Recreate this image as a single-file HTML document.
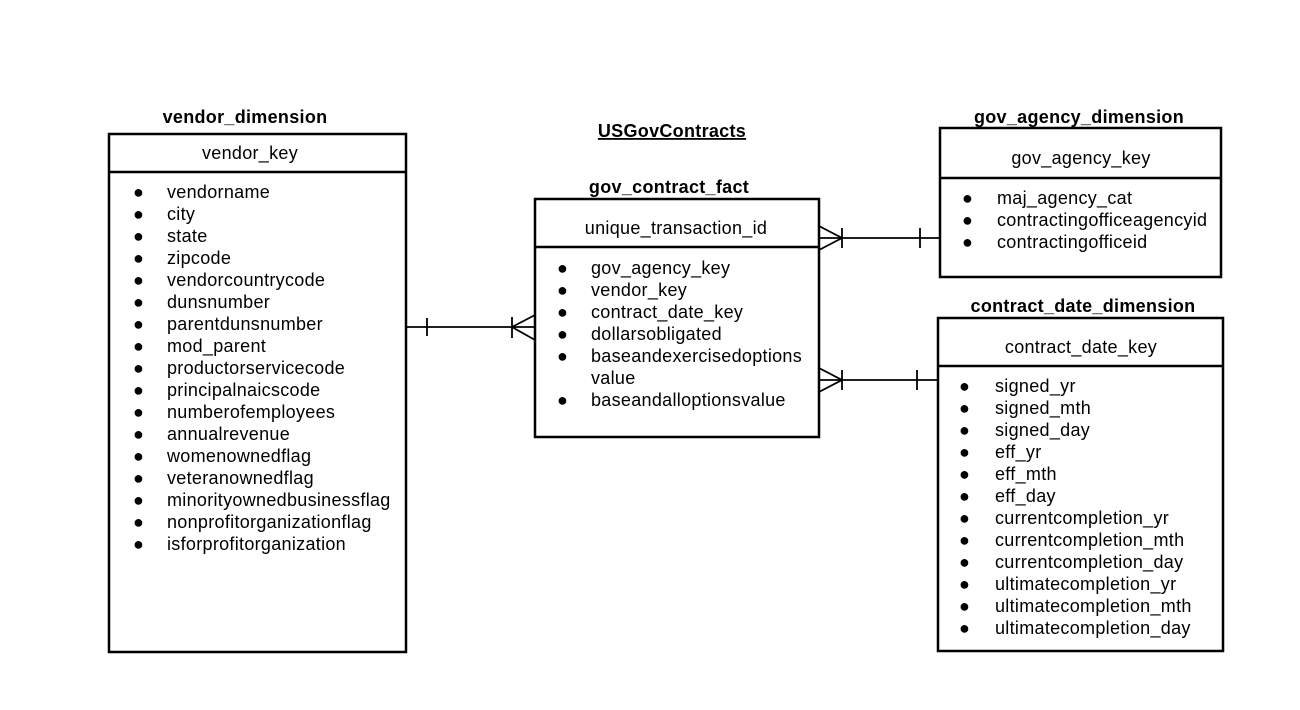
<!DOCTYPE html>
<html><head><meta charset="utf-8"><style>
html,body{margin:0;padding:0;background:#fff;}
svg{display:block;}
text{font-family:"Liberation Sans",Arial,sans-serif;font-size:18px;letter-spacing:0.3px;fill:#000;}
.b{font-weight:bold;}
</style></head><body>
<svg width="1300" height="710" viewBox="0 0 1300 710" xmlns="http://www.w3.org/2000/svg">
<g fill="none" stroke="#000" stroke-width="2.5">
<rect x="109" y="134" width="297" height="518"/>
<line x1="109" y1="172" x2="406" y2="172"/>
<rect x="535" y="199" width="284" height="238"/>
<line x1="535" y1="247" x2="819" y2="247"/>
<rect x="940" y="128" width="281" height="149"/>
<line x1="940" y1="178" x2="1221" y2="178"/>
<rect x="938" y="318" width="285" height="333"/>
<line x1="938" y1="366" x2="1223" y2="366"/>
</g>
<g fill="none" stroke="#000" stroke-width="1.8">
<line x1="406" y1="327" x2="535" y2="327"/>
<line x1="427" y1="318" x2="427" y2="336"/>
<line x1="512" y1="317" x2="512" y2="338"/>
<polyline points="535,315 512,327 535,340"/>
<line x1="819" y1="238" x2="940" y2="238"/>
<polyline points="819,226 842,238 819,250"/>
<line x1="842" y1="228" x2="842" y2="248"/>
<line x1="920" y1="228" x2="920" y2="248"/>
<line x1="819" y1="380" x2="938" y2="380"/>
<polyline points="819,368 842,380 819,392"/>
<line x1="842" y1="370" x2="842" y2="390"/>
<line x1="917" y1="370" x2="917" y2="390"/>
</g>
<text class="b" x="245" y="123" text-anchor="middle">vendor_dimension</text>
<text class="b" x="672" y="137" text-anchor="middle" text-decoration="underline">USGovContracts</text>
<text class="b" x="669" y="193" text-anchor="middle">gov_contract_fact</text>
<text class="b" x="1079" y="123" text-anchor="middle">gov_agency_dimension</text>
<text class="b" x="1083" y="312" text-anchor="middle">contract_date_dimension</text>
<text x="250" y="159" text-anchor="middle">vendor_key</text>
<text x="676" y="234" text-anchor="middle">unique_transaction_id</text>
<text x="1081" y="164" text-anchor="middle">gov_agency_key</text>
<text x="1081" y="353" text-anchor="middle">contract_date_key</text>
<g>
<text x="133" y="198">●</text><text x="167" y="198">vendorname</text>
<text x="133" y="220">●</text><text x="167" y="220">city</text>
<text x="133" y="242">●</text><text x="167" y="242">state</text>
<text x="133" y="264">●</text><text x="167" y="264">zipcode</text>
<text x="133" y="286">●</text><text x="167" y="286">vendorcountrycode</text>
<text x="133" y="308">●</text><text x="167" y="308">dunsnumber</text>
<text x="133" y="330">●</text><text x="167" y="330">parentdunsnumber</text>
<text x="133" y="352">●</text><text x="167" y="352">mod_parent</text>
<text x="133" y="374">●</text><text x="167" y="374">productorservicecode</text>
<text x="133" y="396">●</text><text x="167" y="396">principalnaicscode</text>
<text x="133" y="418">●</text><text x="167" y="418">numberofemployees</text>
<text x="133" y="440">●</text><text x="167" y="440">annualrevenue</text>
<text x="133" y="462">●</text><text x="167" y="462">womenownedflag</text>
<text x="133" y="484">●</text><text x="167" y="484">veteranownedflag</text>
<text x="133" y="506">●</text><text x="167" y="506">minorityownedbusinessflag</text>
<text x="133" y="528">●</text><text x="167" y="528">nonprofitorganizationflag</text>
<text x="133" y="550">●</text><text x="167" y="550">isforprofitorganization</text>
</g>
<g>
<text x="557" y="274">●</text><text x="591" y="274">gov_agency_key</text>
<text x="557" y="296">●</text><text x="591" y="296">vendor_key</text>
<text x="557" y="318">●</text><text x="591" y="318">contract_date_key</text>
<text x="557" y="340">●</text><text x="591" y="340">dollarsobligated</text>
<text x="557" y="362">●</text><text x="591" y="362">baseandexercisedoptions</text>
<text x="591" y="384">value</text>
<text x="557" y="406">●</text><text x="591" y="406">baseandalloptionsvalue</text>
</g>
<g>
<text x="962" y="204">●</text><text x="997" y="204">maj_agency_cat</text>
<text x="962" y="226">●</text><text x="997" y="226">contractingofficeagencyid</text>
<text x="962" y="248">●</text><text x="997" y="248">contractingofficeid</text>
</g>
<g>
<text x="959" y="392">●</text><text x="995" y="392">signed_yr</text>
<text x="959" y="414">●</text><text x="995" y="414">signed_mth</text>
<text x="959" y="436">●</text><text x="995" y="436">signed_day</text>
<text x="959" y="458">●</text><text x="995" y="458">eff_yr</text>
<text x="959" y="480">●</text><text x="995" y="480">eff_mth</text>
<text x="959" y="502">●</text><text x="995" y="502">eff_day</text>
<text x="959" y="524">●</text><text x="995" y="524">currentcompletion_yr</text>
<text x="959" y="546">●</text><text x="995" y="546">currentcompletion_mth</text>
<text x="959" y="568">●</text><text x="995" y="568">currentcompletion_day</text>
<text x="959" y="590">●</text><text x="995" y="590">ultimatecompletion_yr</text>
<text x="959" y="612">●</text><text x="995" y="612">ultimatecompletion_mth</text>
<text x="959" y="634">●</text><text x="995" y="634">ultimatecompletion_day</text>
</g>
</svg>
</body></html>
